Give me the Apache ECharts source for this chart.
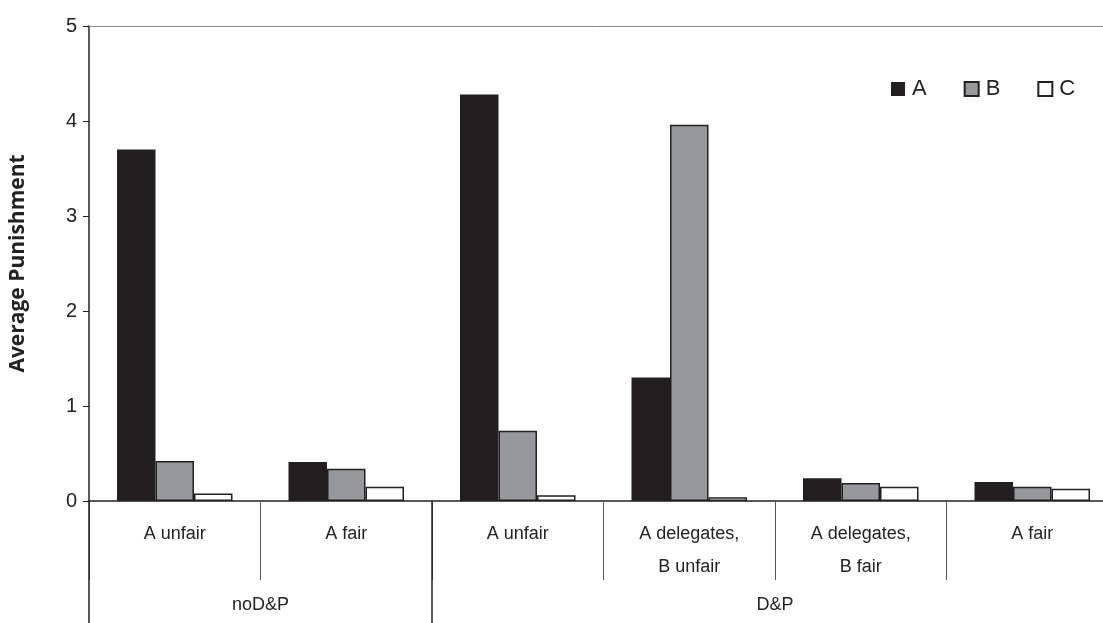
<!DOCTYPE html>
<html>
<head>
<meta charset="utf-8">
<script src="https://cdn.jsdelivr.net/npm/echarts@6/dist/echarts.min.js"></script>
<style>html,body{margin:0;padding:0;background:#fff}#c{width:1103px;height:623px}</style>
</head>
<body>
<div id="c"></div>
<script>
const categories = ['A unfair', 'A fair', 'A unfair', 'A delegates,\nB unfair', 'A delegates,\nB fair', 'A fair'];
const groups = ['noD&P', 'D&P'];
const groupSizes = [2, 4];
const seriesNames = ['A', 'B', 'C'];
const valuesA = [3.70, 0.41, 4.28, 1.30, 0.24, 0.20];
const valuesB = [0.42, 0.34, 0.74, 3.96, 0.19, 0.15];
const valuesC = [0.08, 0.15, 0.06, 0.04, 0.15, 0.13];
const yTicks = [0, 1, 2, 3, 4, 5];

const boundaries = [];
const centers = [];
let acc = 0;
groupSizes.forEach(s => { boundaries.push(acc); centers.push(acc + s / 2); acc += s; });

const chart = echarts.init(document.getElementById('c'), null, {renderer: 'canvas'});
const txt = '#222';
const colors = ['#231f20', '#97989b', '#ffffff'];
const vals = [valuesA, valuesB, valuesC];

chart.setOption({
  animation: false,
  backgroundColor: '#fff',
  textStyle: {fontFamily: 'Liberation Sans, Arial, sans-serif'},
  grid: {left: 89, top: 26, bottom: 122, width: 1029, outerBoundsMode: 'none', containLabel: false},
  legend: {
    left: 886, top: 73,
    icon: 'rect', itemWidth: 14, itemHeight: 14, itemGap: 37,
    textStyle: {fontSize: 22, color: txt, padding: [0, 0, 0, 2]},
    data: seriesNames
  },
  xAxis: [
    {
      type: 'category', data: categories, position: 'bottom',
      axisLine: {lineStyle: {color: '#222', width: 1.5}},
      axisTick: {show: true, length: 79, interval: 0, lineStyle: {color: '#555', width: 1}},
      axisLabel: {interval: 0, color: txt, fontSize: 18, margin: 17, lineHeight: 33}
    },
    {
      type: 'value', min: 0, max: acc, position: 'bottom',
      axisLine: {show: false},
      splitLine: {show: false},
      axisTick: {show: true, customValues: boundaries, length: 122, lineStyle: {color: '#222', width: 1.5}},
      axisLabel: {
        customValues: centers, color: txt, fontSize: 18, margin: 95,
        formatter: v => groups[centers.indexOf(v)] || ''
      }
    },
    {
      type: 'category', data: categories, position: 'top',
      axisLine: {lineStyle: {color: '#8a8a8a', width: 1}},
      axisTick: {show: false}, axisLabel: {show: false}
    }
  ],
  yAxis: {
    type: 'value', min: yTicks[0], max: yTicks[yTicks.length - 1], interval: 1,
    name: 'Average Punishment', nameLocation: 'middle', nameGap: 60,
    nameTextStyle: {fontFamily: 'Open Sans', fontWeight: 'bold', fontSize: 21, color: txt},
    axisLine: {show: true, lineStyle: {color: '#222', width: 1.5}},
    axisTick: {show: true, length: 6, lineStyle: {color: '#222'}},
    axisLabel: {color: txt, fontSize: 20, margin: 12},
    splitLine: {show: false}
  },
  series: seriesNames.map((n, i) => ({
    name: n, type: 'bar', data: vals[i],
    barWidth: 38.5, barGap: '0%',
    itemStyle: {color: colors[i], borderColor: '#231f20', borderWidth: i === 0 ? 0 : 1.5}
  }))
});
</script>
</body>
</html>
